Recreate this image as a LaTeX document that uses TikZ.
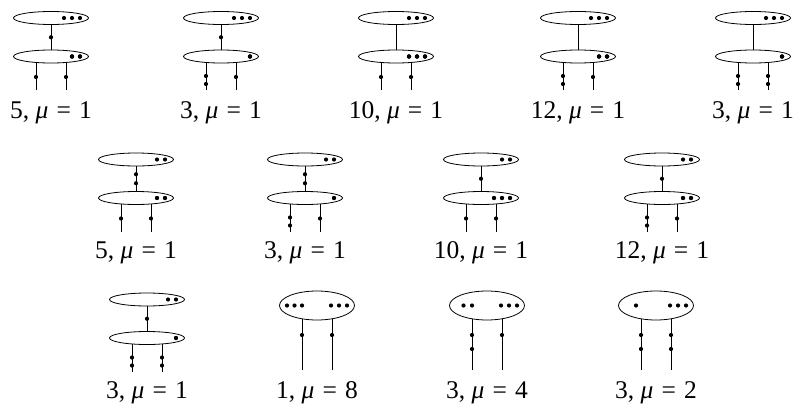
\documentclass[tikz,border=0pt]{standalone}
\usepackage{fontspec}
\setmainfont{Liberation Serif}
\usetikzlibrary{shapes.geometric,calc}
\tikzset{
  ell/.style={draw, ellipse, minimum width=75pt, minimum height=13pt, inner sep=0pt, line width=0.8pt},
  bigell/.style={draw, ellipse, minimum width=75pt, minimum height=29pt, inner sep=0pt, line width=0.8pt},
  edge/.style={line width=0.8pt},
  lbl/.style={anchor=base, font=\fontsize{25.5}{30}\selectfont, inner sep=0pt},
}
\newcommand\dt[1]{\fill #1 circle (2.1pt);}
% #1 id, #2 x, #3 y of top ellipse, #4 top dot offsets, #5 lower dot offsets,
% #6 connector dots (0,1,2), #7 left leg dots (1,2), #8 right leg dots (1,2)
\newcommand\twoe[8]{%
  \node[ell] (#1t) at (#2,#3) {};
  \node[ell] (#1b) at (#2,#3+38.5) {};
  \foreach \d in {#4} \dt{($(#1t.center)+(\d,0)$)}
  \foreach \d in {#5} \dt{($(#1b.center)+(\d,0)$)}
  \draw[edge] (#1t) -- (#1b);
  \coordinate (#1m) at ($(#1t.south)!0.5!(#1b.north)$);
  \ifcase#6\or
    \dt{(#1m)}
  \or
    \dt{($(#1m)+(0,-4.5)$)}
    \dt{($(#1m)+(0,4.5)$)}
  \fi
  \coordinate (#1la) at ($(#1b.center)+(-15,5.96)$);
  \coordinate (#1le) at ($(#1b.center)+(-15,33.5)$);
  \coordinate (#1ra) at ($(#1b.center)+(15,5.96)$);
  \coordinate (#1re) at ($(#1b.center)+(15,33.5)$);
  \draw[edge] (#1la) -- (#1le);
  \draw[edge] (#1ra) -- (#1re);
  \ifnum#7=1
    \dt{($(#1b.center)+(-15,20.5)$)}
  \else
    \dt{($(#1b.center)+(-15,19.5)$)}
    \dt{($(#1b.center)+(-15,27.5)$)}
  \fi
  \ifnum#8=1
    \dt{($(#1b.center)+(15,20.5)$)}
  \else
    \dt{($(#1b.center)+(15,19.5)$)}
    \dt{($(#1b.center)+(15,27.5)$)}
  \fi
}
% #1 id, #2 x, #3 y, #4 dot offsets, #5 left leg dots, #6 right leg dots
\newcommand\onee[6]{%
  \node[bigell] (#1e) at (#2,#3) {};
  \foreach \d in {#4} \dt{($(#1e.center)+(\d,0)$)}
  \coordinate (#1la) at ($(#1e.center)+(-15,13.3)$);
  \coordinate (#1le) at ($(#1e.center)+(-15,64.5)$);
  \coordinate (#1ra) at ($(#1e.center)+(15,13.3)$);
  \coordinate (#1re) at ($(#1e.center)+(15,64.5)$);
  \draw[edge] (#1la) -- (#1le);
  \draw[edge] (#1ra) -- (#1re);
  \dt{($(#1e.center)+(-15,29.5)$)}
  \ifnum#5=2 \dt{($(#1e.center)+(-15,43.5)$)}\fi
  \dt{($(#1e.center)+(15,29.5)$)}
  \ifnum#6=2 \dt{($(#1e.center)+(15,43.5)$)}\fi
}
\newcommand\mul[2]{#1, {\itshape μ}\hspace{0.32em}=\hspace{0.32em}#2}
\begin{document}
\begin{tikzpicture}[x=1pt,y=-1pt]
  \useasboundingbox (0,0) rectangle (793,407);
  % row 1
  \twoe{a}{51}{18}{13,21,29}{21,29}{1}{1}{1}
  \twoe{b}{221}{18}{13,21,29}{29}{1}{2}{1}
  \twoe{c}{396}{18}{13,21,29}{13,21,29}{0}{1}{1}
  \twoe{d}{578}{18}{13,21,29}{21,29}{0}{2}{1}
  \twoe{e}{753}{18}{13,21,29}{29}{0}{2}{2}
  \node[lbl] (la) at (51,118) {\mul{5}{1}};
  \node[lbl] (lb) at (221,118) {\mul{3}{1}};
  \node[lbl] (lc) at (396,118) {\mul{10}{1}};
  \node[lbl] (ld) at (578,118) {\mul{12}{1}};
  \node[lbl] (le) at (753,118) {\mul{3}{1}};
  % row 2
  \twoe{f}{136}{159.5}{21,29}{21,29}{2}{1}{1}
  \twoe{g}{305}{159.5}{21,29}{29}{2}{2}{1}
  \twoe{h}{481}{159.5}{21,29}{13,21,29}{1}{1}{1}
  \twoe{i}{662}{159.5}{21,29}{21,29}{1}{2}{1}
  \node[lbl] (lf) at (136,258) {\mul{5}{1}};
  \node[lbl] (lg) at (305,258) {\mul{3}{1}};
  \node[lbl] (lh) at (481,258) {\mul{10}{1}};
  \node[lbl] (li) at (662,258) {\mul{12}{1}};
  % row 3
  \twoe{j}{147}{299.5}{21,29}{29}{1}{2}{2}
  \onee{k}{317}{305.5}{-30,-22.5,-15,14,22,30}{1}{1}
  \onee{l}{487}{305.5}{-23.5,-15,14,22,30}{2}{1}
  \onee{m}{656}{305.5}{-20,14,22,30}{2}{2}
  \node[lbl] (lj) at (147,398) {\mul{3}{1}};
  \node[lbl] (lk) at (317,398) {\mul{1}{8}};
  \node[lbl] (ll) at (487,398) {\mul{3}{4}};
  \node[lbl] (lm) at (656,398) {\mul{3}{2}};
\end{tikzpicture}
\end{document}
